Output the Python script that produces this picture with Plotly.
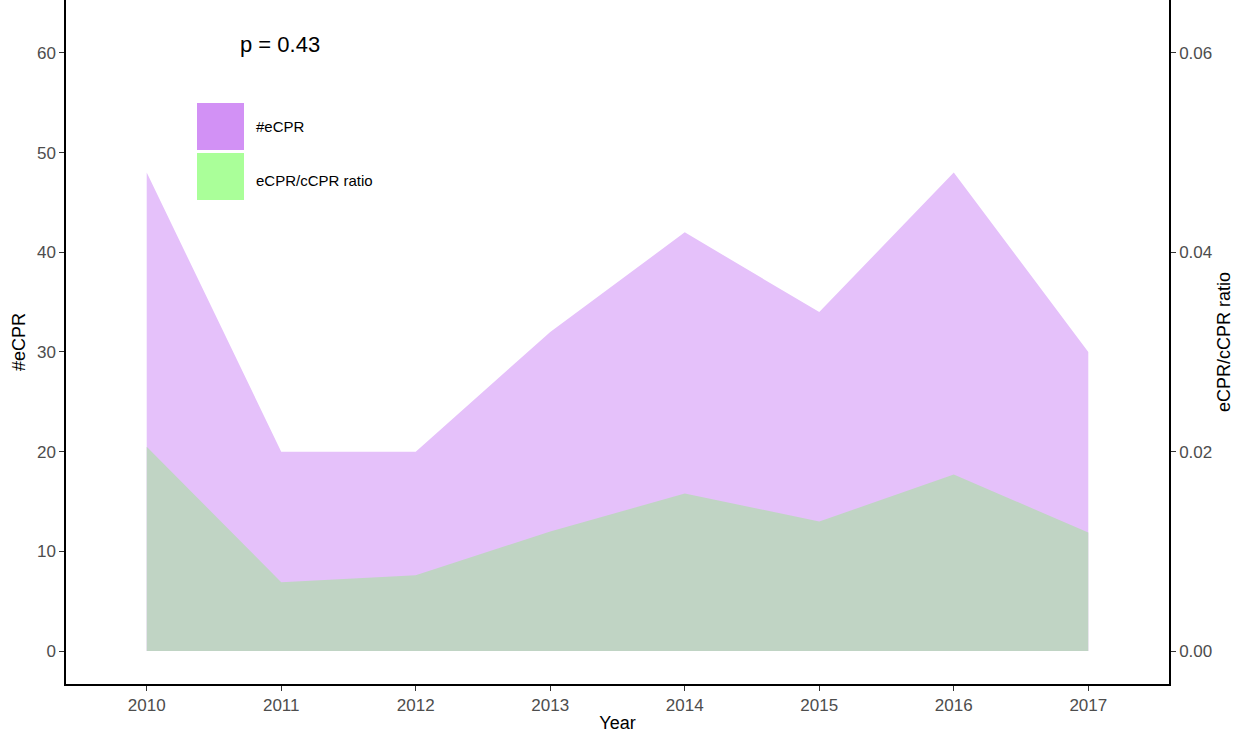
import plotly.graph_objects as go

years = [2010, 2011, 2012, 2013, 2014, 2015, 2016, 2017]
ecpr_counts = [48, 20, 20, 32, 42, 34, 48, 30]
ecpr_ccpr_ratio = [0.0205, 0.0069, 0.0076, 0.0120, 0.0158, 0.0130, 0.0177, 0.0119]
left_ticks = [0, 10, 20, 30, 40, 50, 60]
right_ticks = [0.00, 0.02, 0.04, 0.06]
right_tick_labels = ["0.00", "0.02", "0.04", "0.06"]
p_text = "p = 0.43"
legend_labels = ["#eCPR", "eCPR/cCPR ratio"]

FONT = "Liberation Sans, Arial, Helvetica, sans-serif"
TICKCOL = "#4D4D4D"

fig = go.Figure()
fig.add_trace(go.Scatter(
    x=years, y=ecpr_counts, mode="lines", fill="tozeroy",
    line=dict(width=0, color="#E5C1FA"), fillcolor="#E5C1FA",
    name=legend_labels[0], showlegend=False, yaxis="y"))
fig.add_trace(go.Scatter(
    x=years, y=ecpr_ccpr_ratio, mode="lines", fill="tozeroy",
    line=dict(width=0, color="#C0D4C4"), fillcolor="#C0D4C4",
    name=legend_labels[1], showlegend=False, yaxis="y2"))

axis_common = dict(showgrid=False, zeroline=False, showline=True, linecolor="black",
                   linewidth=1.5, ticks="outside", ticklen=5, tickcolor="#333333",
                   tickwidth=1.2, automargin=False,
                   tickfont=dict(family=FONT, size=17, color=TICKCOL))

fig.update_layout(
    width=1239, height=733,
    margin=dict(l=66, r=70, t=0, b=49),
    paper_bgcolor="white", plot_bgcolor="white",
    font=dict(family=FONT, color="black"),
    xaxis=dict(range=[2009.4, 2017.6], tickvals=years,
               title=dict(text="Year", font=dict(family=FONT, size=18, color="black"), standoff=2),
               **axis_common),
    yaxis=dict(range=[-3.3, 65.3], tickvals=left_ticks,
               title=dict(text="#eCPR", font=dict(family=FONT, size=18, color="black"), standoff=7),
               **axis_common),
    yaxis2=dict(range=[-0.0033, 0.0653], tickvals=right_ticks, ticktext=right_tick_labels,
                overlaying="y", side="right",
                title=dict(text="eCPR/cCPR ratio", font=dict(family=FONT, size=18, color="black"), standoff=6),
                **axis_common),
)

# legend swatches and labels
fig.add_shape(type="rect", xref="paper", yref="paper",
              x0=(197-66)/1103, x1=(244-66)/1103, y0=(684-150)/684, y1=(684-103)/684,
              fillcolor="#D291F5", line=dict(width=0))
fig.add_shape(type="rect", xref="paper", yref="paper",
              x0=(197-66)/1103, x1=(244-66)/1103, y0=(684-200)/684, y1=(684-153)/684,
              fillcolor="#AAFF99", line=dict(width=0))
fig.add_annotation(xref="paper", yref="paper", x=(254-66)/1103, y=(684-127)/684,
                   text=legend_labels[0], showarrow=False, xanchor="left", yanchor="middle",
                   font=dict(family=FONT, size=15, color="black"))
fig.add_annotation(xref="paper", yref="paper", x=(254-66)/1103, y=(684-180)/684,
                   text=legend_labels[1], showarrow=False, xanchor="left", yanchor="middle",
                   font=dict(family=FONT, size=15, color="black"))
fig.add_annotation(xref="paper", yref="paper", x=(238-66)/1103, y=(684-44)/684,
                   text=p_text, showarrow=False, xanchor="left", yanchor="middle",
                   font=dict(family=FONT, size=22, color="black"))

fig.write_html("out.html", config={"displayModeBar": False},
               post_script="document.body.style.margin='0px';")
